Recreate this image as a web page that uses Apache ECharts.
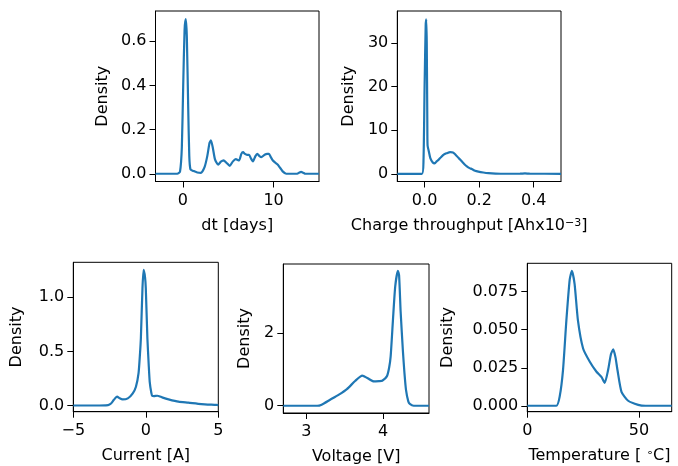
<!DOCTYPE html>
<html><head><meta charset="utf-8">
<script src="https://cdn.jsdelivr.net/npm/echarts@6/dist/echarts.min.js"></script>
<style>html,body{margin:0;padding:0;background:#fff}#c{width:678px;height:466px}</style>
</head><body><div id="c"></div>
<script>
// ---- data ----
const dtX = [-3,-0.6,-0.3,-0.1,0.05,0.2,0.33,0.45,0.6,0.72,0.85,1.2,1.6,2.0,2.4,2.7,2.95,3.1,3.3,3.55,3.9,4.2,4.5,4.8,5.18,5.5,5.84,6.2,6.45,6.64,6.85,7.08,7.3,7.5,7.73,8.0,8.21,8.45,8.65,9.01,9.3,9.49,9.7,9.92,10.2,10.47,10.75,11.0,11.39,12.6,12.85,13.03,13.25,13.5,15];
const dtY = [0,0,0.01,0.12,0.4,0.65,0.70,0.62,0.3,0.08,0.02,0.012,0.006,0.004,0.03,0.08,0.14,0.151,0.12,0.065,0.041,0.055,0.061,0.05,0.036,0.055,0.066,0.060,0.09,0.098,0.09,0.086,0.086,0.07,0.056,0.08,0.090,0.08,0.075,0.086,0.09,0.090,0.075,0.060,0.05,0.041,0.025,0.011,0,0,0.006,0.009,0.005,0,0];
const chX = [-0.1,-0.01,-0.004,0.0,0.004,0.006,0.008,0.010,0.011,0.016,0.021,0.03,0.037,0.045,0.051,0.06,0.070,0.08,0.094,0.104,0.112,0.125,0.137,0.146,0.155,0.165,0.173,0.185,0.197,0.215,0.234,0.26,0.3,0.35,0.368,0.385,0.5];
const chY = [0,0,3,20,34,35.5,30,12,6.5,5.0,3.6,2.6,2.4,2.9,3.2,3.8,4.4,4.7,5.0,4.9,4.5,3.6,2.8,2.2,1.7,1.3,1.1,0.7,0.5,0.3,0.15,0.05,0.01,0.02,0.1,0.02,0];
const curX = [-5,-3.5,-2.6,-2.4,-2.2,-1.98,-1.8,-1.6,-1.24,-0.9,-0.68,-0.5,-0.4,-0.34,-0.23,-0.15,-0.05,0.0,0.11,0.2,0.27,0.38,0.45,0.56,0.79,1.12,1.57,2.25,2.93,3.83,4.73,5];
const curY = [0.002,0.002,0.006,0.02,0.055,0.083,0.068,0.058,0.068,0.114,0.175,0.30,0.48,0.62,1.08,1.25,1.18,1.08,0.62,0.38,0.22,0.12,0.09,0.089,0.092,0.077,0.059,0.037,0.028,0.015,0.008,0.006];
const volX = [2.7,3.14,3.2,3.31,3.42,3.53,3.64,3.73,3.80,3.88,3.95,3.99,4.05,4.08,4.10,4.13,4.16,4.195,4.21,4.23,4.26,4.28,4.30,4.33,4.35,4.4,4.6];
const volY = [0,0,0.03,0.165,0.3,0.46,0.69,0.83,0.76,0.67,0.68,0.69,0.81,1.05,1.36,2.37,3.3,3.72,3.6,2.6,1.5,0.9,0.44,0.12,0.05,0,0];
const tmpX = [0,13,14.5,16,17.5,19,20,21.2,22.7,25,28,31,33.2,34.7,36.2,37.5,38.5,39.5,40.4,42.2,45.2,49.7,53,64.7];
const tmpY = [0,0,0.006,0.0235,0.056,0.083,0.0888,0.080,0.056,0.0377,0.029,0.0224,0.019,0.0151,0.0235,0.034,0.0371,0.032,0.0235,0.0092,0.0033,0.0006,0,0];

const xTicks = [[0,10],[0,0.2,0.4],[-5,0,5],[3,4],[0,50]];
const yTicks = [[0,0.2,0.4,0.6],[0,10,20,30],[0,0.5,1.0],[0,2],[0,0.025,0.05,0.075]];
const yDec = [1,0,1,0,3];
const xDec = [0,1,0,0,0];
const xNames = ['dt [days]','Charge throughput [Ahx10{sup|−3}]','Current [A]','Voltage [V]','Temperature [ {sup|∘}C]'];
const yName = 'Density';

// ---- layout ----
const grids = [
  {left:155.5,top:11,width:163.5,height:170.5},
  {left:397.3,top:11,width:163.7,height:170.5},
  {left:73.3,top:262.3,width:145,height:149.4},
  {left:283.3,top:264,width:145.7,height:149.3},
  {left:527.3,top:263.3,width:144.4,height:148.4}
];
const xRange = [[-3,15],[-0.1,0.5],[-5,5],[2.7,4.6],[0,64.7]];
const yRange = [[-0.035,0.737],[-1.77,37.4],[-0.055,1.32],[-0.2,3.91],[-0.0039,0.0937]];
const yNameGap = [45,40,48,30,71];
const xNamePad = [[0,0,0,0],[0,20,0,0],[0,0,0,0],[0,0,0,0],[0,0,0,0]];

const FONT = 'DejaVu Sans';
const fmt = (v,d)=> v.toFixed(d).replace('-','\u2212');
const zip = (a,b)=>a.map((x,i)=>[x,b[i]]);
const seriesData = [zip(dtX,dtY),zip(chX,chY),zip(curX,curY),zip(volX,volY),zip(tmpX,tmpY)];

const option = {
  animation:false,
  grid: grids.map(g=>Object.assign({show:true,borderColor:'#000',borderWidth:1,backgroundColor:'transparent'},g)),
  xAxis: grids.map((g,i)=>({
    type:'value', gridIndex:i, min:xRange[i][0], max:xRange[i][1],
    name:xNames[i], nameLocation:'middle', nameGap:36,
    nameTextStyle:{color:'#000',fontFamily:FONT,fontSize:16,padding:xNamePad[i],
      rich:{sup:{fontSize:11,fontFamily:FONT,color:'#000',verticalAlign:'top',lineHeight:10}}},
    axisLine:{show:true,onZero:false,lineStyle:{color:'#000',width:1}}, splitLine:{show:false},
    axisTick:{show:true,inside:false,length:6,lineStyle:{color:'#000',width:1},customValues:xTicks[i]},
    axisLabel:{color:'#000',fontFamily:FONT,fontSize:16,margin:11,customValues:xTicks[i],
      formatter:v=>fmt(v,xDec[i])}
  })),
  yAxis: grids.map((g,i)=>({
    type:'value', gridIndex:i, min:yRange[i][0], max:yRange[i][1],
    name:yName, nameLocation:'middle', nameGap:yNameGap[i],
    nameTextStyle:{color:'#000',fontFamily:FONT,fontSize:16},
    axisLine:{show:true,onZero:false,lineStyle:{color:'#000',width:1}}, splitLine:{show:false},
    axisTick:{show:true,inside:false,length:6,lineStyle:{color:'#000',width:1},customValues:yTicks[i]},
    axisLabel:{color:'#000',fontFamily:FONT,fontSize:16,margin:9,customValues:yTicks[i],
      formatter:v=>fmt(v,yDec[i])}
  })),
  series: seriesData.map((d,i)=>({
    type:'line', xAxisIndex:i, yAxisIndex:i, data:d, showSymbol:false,
    smooth:0.2, lineStyle:{color:'#1f77b4',width:2.2}, clip:true
  }))
};
echarts.init(document.getElementById('c'),null,{renderer:'canvas'}).setOption(option);
</script></body></html>
